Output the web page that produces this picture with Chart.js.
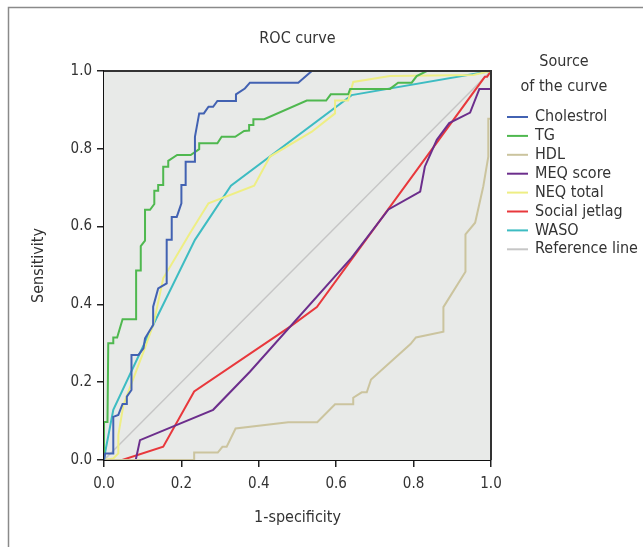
<!DOCTYPE html>
<html>
<head>
<meta charset="utf-8">
<script src="https://cdn.jsdelivr.net/npm/chart.js@4"></script>
<style>
  html, body { margin: 0; padding: 0; background: #fff; }
  #wrap { width: 643px; height: 547px; position: relative; }
</style>
</head>
<body>
<div id="wrap"><canvas id="myChart" width="643" height="547"></canvas></div>
<script>
// 各曲線の座標 (1-specificity, sensitivity)
const seriesNames = ['Cholestrol', 'TG', 'HDL', 'MEQ score', 'NEQ total', 'Social jetlag', 'WASO', 'Reference line'];
const seriesColors = ['#4262b2', '#4fb84f', '#cbc49e', '#6c2e8c', '#eeee84', '#e8383c', '#3dbcc2', '#c6c6c6'];

const cholX = [0, 0.003, 0.024, 0.024, 0.037, 0.048, 0.059, 0.059, 0.071, 0.071, 0.089, 0.102, 0.106, 0.127, 0.127, 0.140, 0.162, 0.162, 0.175, 0.175, 0.188, 0.200, 0.200, 0.211, 0.211, 0.235, 0.235, 0.246, 0.258, 0.270, 0.282, 0.293, 0.339, 0.341, 0.364, 0.377, 0.502, 0.537, 1];
const cholY = [0, 0.017, 0.017, 0.111, 0.116, 0.144, 0.144, 0.163, 0.180, 0.270, 0.270, 0.287, 0.313, 0.347, 0.394, 0.441, 0.454, 0.566, 0.566, 0.625, 0.625, 0.660, 0.707, 0.707, 0.767, 0.767, 0.831, 0.891, 0.891, 0.908, 0.908, 0.923, 0.923, 0.940, 0.955, 0.970, 0.970, 1, 1];

const tgX = [0, 0, 0.009, 0.011, 0.024, 0.024, 0.034, 0.048, 0.083, 0.083, 0.095, 0.095, 0.106, 0.106, 0.119, 0.130, 0.130, 0.140, 0.140, 0.153, 0.153, 0.166, 0.166, 0.189, 0.224, 0.246, 0.246, 0.293, 0.304, 0.339, 0.362, 0.375, 0.375, 0.386, 0.386, 0.414, 0.524, 0.574, 0.586, 0.631, 0.636, 0.739, 0.760, 0.795, 0.808, 0.834, 1];
const tgY = [0, 0.098, 0.098, 0.300, 0.300, 0.315, 0.315, 0.362, 0.362, 0.487, 0.487, 0.550, 0.564, 0.643, 0.643, 0.658, 0.692, 0.692, 0.707, 0.707, 0.754, 0.754, 0.769, 0.784, 0.784, 0.799, 0.814, 0.814, 0.831, 0.831, 0.846, 0.847, 0.861, 0.861, 0.876, 0.876, 0.924, 0.924, 0.940, 0.940, 0.954, 0.954, 0.970, 0.970, 0.987, 1, 1];

const hdlX = [0, 0.233, 0.233, 0.294, 0.306, 0.317, 0.340, 0.476, 0.551, 0.597, 0.644, 0.644, 0.666, 0.679, 0.690, 0.792, 0.806, 0.877, 0.877, 0.934, 0.934, 0.959, 0.980, 0.993, 0.993, 1, 1];
const hdlY = [0, 0, 0.019, 0.019, 0.034, 0.034, 0.081, 0.097, 0.097, 0.143, 0.143, 0.160, 0.174, 0.174, 0.207, 0.298, 0.315, 0.330, 0.393, 0.484, 0.580, 0.610, 0.703, 0.780, 0.877, 0.877, 1];

const meqX = [0, 0.082, 0.093, 0.282, 0.377, 0.640, 0.735, 0.817, 0.829, 0.860, 0.892, 0.946, 0.970, 1, 1];
const meqY = [0, 0, 0.051, 0.129, 0.227, 0.520, 0.644, 0.690, 0.754, 0.823, 0.866, 0.893, 0.954, 0.954, 1];

const neqX = [0, 0.024, 0.037, 0.037, 0.050, 0.076, 0.102, 0.127, 0.132, 0.153, 0.222, 0.270, 0.388, 0.429, 0.537, 0.597, 0.597, 0.631, 0.644, 0.739, 0.954, 1];
const neqY = [0, 0.004, 0.017, 0.064, 0.141, 0.210, 0.278, 0.347, 0.368, 0.467, 0.583, 0.660, 0.705, 0.780, 0.844, 0.891, 0.924, 0.924, 0.972, 0.987, 0.990, 1];

const jetX = [0, 0.047, 0.153, 0.233, 0.481, 0.550, 0.984, 0.990, 1];
const jetY = [0, 0, 0.034, 0.176, 0.343, 0.393, 0.985, 0.985, 1];

const wasoX = [0, 0.003, 0.024, 0.127, 0.235, 0.328, 0.640, 1];
const wasoY = [0, 0.020, 0.129, 0.347, 0.566, 0.705, 0.938, 1];

const refX = [0, 1];
const refY = [0, 1];

const xTicks = [0, 0.2, 0.4, 0.6, 0.8, 1.0];
const yTicks = [0, 0.2, 0.4, 0.6, 0.8, 1.0];

const allX = [cholX, tgX, hdlX, meqX, neqX, jetX, wasoX, refX];
const allY = [cholY, tgY, hdlY, meqY, neqY, jetY, wasoY, refY];

const FONT = "'Liberation Sans Narrow', 'DejaVu Sans Condensed', 'Noto Sans', sans-serif";

const datasets = seriesNames.map((name, i) => ({
    label: name,
    data: allX[i].map((x, j) => ({ x: x, y: allY[i][j] })),
    borderColor: seriesColors[i],
    backgroundColor: seriesColors[i],
    borderWidth: i === 7 ? 1.5 : 2,
    pointRadius: 0,
    tension: 0,
    fill: false
}));

// 背景・外枠・タイトル・凡例を描くプラグイン
const framePlugin = {
    id: 'framePlugin',
    beforeDatasetsDraw(chart) {
        const { ctx, chartArea: a } = chart;
        ctx.save();
        ctx.fillStyle = '#e8eae8';
        ctx.fillRect(a.left, a.top, a.right - a.left, a.bottom - a.top);
        ctx.restore();
    },
    beforeDraw(chart) {
        const ctx = chart.ctx;
        ctx.save();
        ctx.strokeStyle = '#8a8a8a';
        ctx.lineWidth = 1.5;
        ctx.beginPath();
        ctx.moveTo(8.5, 547);
        ctx.lineTo(8.5, 7.5);
        ctx.lineTo(643, 7.5);
        ctx.stroke();
        ctx.restore();
    },
    afterDraw(chart) {
        const { ctx, chartArea: a } = chart;
        ctx.save();
        // 上と右の枠線
        ctx.strokeStyle = '#333';
        ctx.lineWidth = 2;
        ctx.beginPath();
        ctx.moveTo(a.left, a.top);
        ctx.lineTo(a.right, a.top);
        ctx.lineTo(a.right, a.bottom);
        ctx.stroke();

        ctx.fillStyle = '#333';
        ctx.font = '16px ' + FONT;
        ctx.textAlign = 'center';
        ctx.textBaseline = 'middle';
        ctx.fillText('ROC curve', (a.left + a.right) / 2, 39);

        // 凡例
        ctx.fillText('Source', 564, 62);
        ctx.fillText('of the curve', 564, 87);
        ctx.textAlign = 'left';
        seriesNames.forEach((name, i) => {
            const y = 117 + i * 18.9;
            ctx.strokeStyle = seriesColors[i];
            ctx.lineWidth = 2;
            ctx.beginPath();
            ctx.moveTo(507, y);
            ctx.lineTo(528, y);
            ctx.stroke();
            ctx.fillStyle = '#333';
            ctx.fillText(name, 535, y);
        });
        ctx.restore();
    }
};

const ctx = document.getElementById('myChart').getContext('2d');
const myChart = new Chart(ctx, {
    type: 'line',
    data: { datasets: datasets },
    options: {
        responsive: false,
        animation: false,
        layout: { padding: { left: 25, right: 152, top: 71, bottom: 16 } },
        plugins: {
            legend: { display: false },
            title: { display: false },
            tooltip: { enabled: false }
        },
        scales: {
            x: {
                type: 'linear',
                min: 0,
                max: 1,
                afterFit(scale) { scale.height = 71; },
                afterBuildTicks(scale) { scale.ticks = xTicks.map(v => ({ value: v })); },
                grid: { drawOnChartArea: false, drawTicks: true, tickLength: 7, color: '#222', lineWidth: 1.5 },
                border: { display: true, color: '#111', width: 2 },
                ticks: { color: '#333', padding: 8, font: { family: FONT, size: 15 }, callback: v => v.toFixed(1) },
                title: { display: true, text: '1-specificity', color: '#333', font: { family: FONT, size: 16 }, padding: { top: 4, bottom: 4 } }
            },
            y: {
                type: 'linear',
                min: 0,
                max: 1,
                afterFit(scale) { scale.width = 79; },
                afterBuildTicks(scale) { scale.ticks = yTicks.map(v => ({ value: v })); },
                grid: { drawOnChartArea: false, drawTicks: true, tickLength: 7, color: '#222', lineWidth: 1.5 },
                border: { display: true, color: '#111', width: 2 },
                ticks: { color: '#333', padding: 5, font: { family: FONT, size: 15 }, callback: v => v.toFixed(1) },
                title: { display: true, text: 'Sensitivity', color: '#333', font: { family: FONT, size: 16 }, padding: { top: 4, bottom: 4 } }
            }
        }
    },
    plugins: [framePlugin]
});
</script>
</body>
</html>
